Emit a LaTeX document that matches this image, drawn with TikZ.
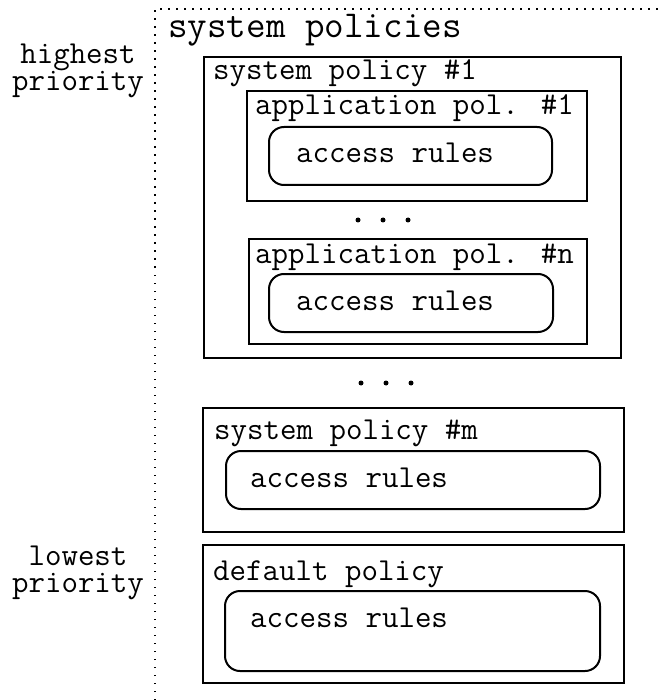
\documentclass[tikz,border=0pt]{standalone}
\begin{document}
\begin{tikzpicture}[x=1pt,y=-1pt,
  box/.style={draw,line width=2pt,inner sep=0pt,rectangle},
  rbox/.style={box,rounded corners=15pt},
  txt/.style={inner sep=0pt,anchor=base west,font=\fontsize{32}{32}\selectfont\ttfamily},
  lbl/.style={inner sep=0pt,anchor=center,align=center,font=\fontsize{32}{27}\selectfont\ttfamily},
  ttl/.style={inner sep=0pt,anchor=base west,font=\fontsize{38}{38}\selectfont\ttfamily},
  border/.style={line width=1.5pt,dash pattern=on 1.5pt off 6.5pt},
  dot/.style={circle,fill,inner sep=0pt,minimum size=5pt}]
\useasboundingbox (0,0) rectangle (659,700);
% dotted frame
\coordinate (fb) at (155,700);
\coordinate (fc) at (155,9);
\coordinate (fr) at (659,9);
\draw[border] (fb) -- (fc) -- (fr);
\node[ttl] (title) at (168,38) {system policies};
% priority labels
\node[lbl] (hi) at (78,71.2) {highest\\priority};
\node[lbl] (lo) at (78,572.8) {lowest\\priority};
% system policy #1
\node[box,minimum width=417pt,minimum height=301pt] (sys1) at (412.5,207.5) {};
\node[txt] (sys1t) at (213,80) {system policy \#1};
\node[box,minimum width=340pt,minimum height=110pt] (app1) at (417,146) {};
\node[txt] (app1t) at (255,115) {application pol. \#1};
\node[rbox,minimum width=283pt,minimum height=58pt] (ar1) at (410.5,156) {};
\node[txt] (ar1t) at (296,163) {access rules};
\node[dot] (d1) at (358,220) {};
\node[dot] (d2) at (383,220) {};
\node[dot] (d3) at (408,220) {};
\node[box,minimum width=338pt,minimum height=105pt] (appn) at (418,291.5) {};
\node[txt] (appnt) at (255,263) {application pol. \#n};
\node[rbox,minimum width=284pt,minimum height=58pt] (arn) at (411,303) {};
\node[txt] (arnt) at (296,310) {access rules};
% dots between
\node[dot] (e1) at (361,383) {};
\node[dot] (e2) at (386,383) {};
\node[dot] (e3) at (411,383) {};
% system policy #m
\node[box,minimum width=421pt,minimum height=124pt] (sysm) at (413.5,470) {};
\node[txt] (sysmt) at (214,439) {system policy \#m};
\node[rbox,minimum width=374pt,minimum height=58pt] (arm) at (413,480) {};
\node[txt] (armt) at (250,487) {access rules};
% default policy
\node[box,minimum width=421pt,minimum height=138pt] (def) at (413.5,614) {};
\node[txt] (deft) at (213,580) {default policy};
\node[rbox,minimum width=375pt,minimum height=80pt] (ard) at (412.5,631) {};
\node[txt] (ardt) at (250,627) {access rules};
\end{tikzpicture}
\end{document}
